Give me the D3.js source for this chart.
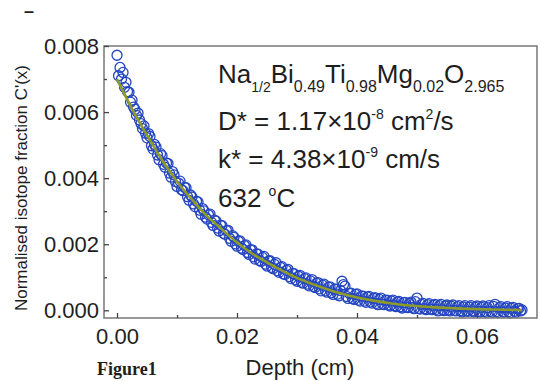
<!DOCTYPE html>
<html>
<head>
<meta charset="utf-8">
<script src="https://cdn.jsdelivr.net/npm/d3@7"></script>
<style>
  body { margin: 0; background: #fff; }
  svg { display: block; font-family: "Liberation Sans", Arial, sans-serif; }
</style>
</head>
<body>
<svg id="chart" width="540" height="381"></svg>
<script>
// measured depth (cm)
const depth = [
  0.0000, 0.0005, 0.0010, 0.0015, 0.0020, 0.0025, 0.0030, 0.0035, 0.0040, 0.0045,
  0.0050, 0.0055, 0.0060, 0.0065, 0.0070, 0.0075, 0.0080, 0.0085, 0.0090, 0.0095,
  0.0100, 0.0105, 0.0110, 0.0115, 0.0120, 0.0125, 0.0130, 0.0135, 0.0140, 0.0145,
  0.0150, 0.0155, 0.0160, 0.0165, 0.0170, 0.0175, 0.0180, 0.0185, 0.0190, 0.0195,
  0.0200, 0.0205, 0.0210, 0.0215, 0.0220, 0.0225, 0.0230, 0.0235, 0.0240, 0.0245,
  0.0250, 0.0255, 0.0260, 0.0265, 0.0270, 0.0275, 0.0280, 0.0285, 0.0290, 0.0295,
  0.0300, 0.0305, 0.0310, 0.0315, 0.0320, 0.0325, 0.0330, 0.0335, 0.0340, 0.0345,
  0.0350, 0.0355, 0.0360, 0.0365, 0.0370, 0.0375, 0.0380, 0.0385, 0.0390, 0.0395,
  0.0400, 0.0405, 0.0410, 0.0415, 0.0420, 0.0425, 0.0430, 0.0435, 0.0440, 0.0445,
  0.0450, 0.0455, 0.0460, 0.0465, 0.0470, 0.0475, 0.0480, 0.0485, 0.0490, 0.0495,
  0.0500, 0.0505, 0.0510, 0.0515, 0.0520, 0.0525, 0.0530, 0.0535, 0.0540, 0.0545,
  0.0550, 0.0555, 0.0560, 0.0565, 0.0570, 0.0575, 0.0580, 0.0585, 0.0590, 0.0595,
  0.0600, 0.0605, 0.0610, 0.0615, 0.0620, 0.0625, 0.0630, 0.0635, 0.0640, 0.0645,
  0.0650, 0.0655, 0.0660, 0.0665, 0.0670, 0.0675
];
// normalised isotope fraction C'(x)
const conc = [
  0.00772, 0.00735, 0.00720, 0.00690, 0.00660, 0.00636, 0.00608, 0.00597, 0.00565, 0.00558,
  0.00522, 0.00526, 0.00488, 0.00494, 0.00456, 0.00468, 0.00433, 0.00444, 0.00403, 0.00410,
  0.00375, 0.00391, 0.00362, 0.00371, 0.00333, 0.00343, 0.00314, 0.00328, 0.00291, 0.00301,
  0.00276, 0.00291, 0.00257, 0.00270, 0.00240, 0.00256, 0.00230, 0.00242, 0.00209, 0.00221,
  0.00194, 0.00210, 0.00184, 0.00198, 0.00169, 0.00183, 0.00155, 0.00170, 0.00148, 0.00163,
  0.00134, 0.00150, 0.00126, 0.00144, 0.00115, 0.00132, 0.00108, 0.00124, 0.00096, 0.00111,
  0.00088, 0.00106, 0.00082, 0.00098, 0.00074, 0.00093, 0.00069, 0.00084, 0.00059, 0.00079,
  0.00055, 0.00071, 0.00048, 0.00064, 0.00044, 0.00088, 0.00073, 0.00036, 0.00052, 0.00033,
  0.00050, 0.00028, 0.00043, 0.00024, 0.00042, 0.00022, 0.00038, 0.00017, 0.00037, 0.00017,
  0.00031, 0.00013, 0.00031, 0.00011, 0.00027, 0.00007, 0.00024, 0.00008, 0.00025, 0.00005,
  0.00037, 0.00004, 0.00021, 0.00002, 0.00020, 0.00002, 0.00018, -0.00002, 0.00018, -0.00001,
  0.00016, -0.00002, 0.00016, -0.00002, 0.00014, -0.00005, 0.00014, -0.00003, 0.00014, -0.00005,
  0.00013, -0.00005, 0.00013, -0.00006, 0.00014, -0.00006, 0.00018, -0.00007, 0.00011, -0.00006,
  0.00011, -0.00008, 0.00009, -0.00006, 0.00006, 0.00001
];
// second pass of measurements, between the first ones
const depth2 = [
  0.00025, 0.00075, 0.00125, 0.00175, 0.00225, 0.00275, 0.00325, 0.00375, 0.00425, 0.00475,
  0.00525, 0.00575, 0.00625, 0.00675, 0.00725, 0.00775, 0.00825, 0.00875, 0.00925, 0.00975,
  0.01025, 0.01075, 0.01125, 0.01175, 0.01225, 0.01275, 0.01325, 0.01375, 0.01425, 0.01475,
  0.01525, 0.01575, 0.01625, 0.01675, 0.01725, 0.01775, 0.01825, 0.01875, 0.01925, 0.01975,
  0.02025, 0.02075, 0.02125, 0.02175, 0.02225, 0.02275, 0.02325, 0.02375, 0.02425, 0.02475,
  0.02525, 0.02575, 0.02625, 0.02675, 0.02725, 0.02775, 0.02825, 0.02875, 0.02925, 0.02975,
  0.03025, 0.03075, 0.03125, 0.03175, 0.03225, 0.03275, 0.03325, 0.03375, 0.03425, 0.03475,
  0.03525, 0.03575, 0.03625, 0.03675, 0.03725, 0.03775, 0.03825, 0.03875, 0.03925, 0.03975,
  0.04025, 0.04075, 0.04125, 0.04175, 0.04225, 0.04275, 0.04325, 0.04375, 0.04425, 0.04475,
  0.04525, 0.04575, 0.04625, 0.04675, 0.04725, 0.04775, 0.04825, 0.04875, 0.04925, 0.04975,
  0.05025, 0.05075, 0.05125, 0.05175, 0.05225, 0.05275, 0.05325, 0.05375, 0.05425, 0.05475,
  0.05525, 0.05575, 0.05625, 0.05675, 0.05725, 0.05775, 0.05825, 0.05875, 0.05925, 0.05975,
  0.06025, 0.06075, 0.06125, 0.06175, 0.06225, 0.06275, 0.06325, 0.06375, 0.06425, 0.06475,
  0.06525, 0.06575, 0.06625, 0.06675, 0.06725
];
const conc2 = [
  0.00710, 0.00700, 0.00675, 0.00662, 0.00630, 0.00615, 0.00590, 0.00576, 0.00550, 0.00536,
  0.00535, 0.00498, 0.00502, 0.00470, 0.00474, 0.00442, 0.00446, 0.00415, 0.00420, 0.00390,
  0.00385, 0.00365, 0.00372, 0.00344, 0.00349, 0.00322, 0.00330, 0.00303, 0.00308, 0.00282,
  0.00289, 0.00266, 0.00273, 0.00249, 0.00258, 0.00233, 0.00241, 0.00218, 0.00226, 0.00201,
  0.00209, 0.00188, 0.00196, 0.00175, 0.00183, 0.00162, 0.00171, 0.00151, 0.00160, 0.00140,
  0.00149, 0.00130, 0.00139, 0.00120, 0.00130, 0.00110, 0.00121, 0.00102, 0.00112, 0.00093,
  0.00103, 0.00085, 0.00096, 0.00079, 0.00089, 0.00072, 0.00082, 0.00065, 0.00076, 0.00059,
  0.00070, 0.00053, 0.00064, 0.00049, 0.00060, 0.00078, 0.00042, 0.00051, 0.00036, 0.00048,
  0.00031, 0.00043, 0.00028, 0.00040, 0.00025, 0.00036, 0.00021, 0.00033, 0.00019, 0.00030,
  0.00016, 0.00028, 0.00014, 0.00025, 0.00011, 0.00023, 0.00010, 0.00021, 0.00009, 0.00026,
  0.00006, 0.00018, 0.00005, 0.00017, 0.00004, 0.00015, 0.00003, 0.00014, 0.00002, 0.00013,
  0.00001, 0.00012, 0.00000, 0.00011, -0.00001, 0.00010, -0.00002, 0.00010, -0.00002, 0.00009,
  -0.00003, 0.00009, -0.00003, 0.00008, -0.00003, 0.00012, -0.00004, 0.00008, -0.00004, 0.00007,
  -0.00004, 0.00006, -0.00003, 0.00005, -0.00002
];
// fitted profile
const fitDepth = [0, 0.0025, 0.005, 0.0075, 0.010, 0.0125, 0.015, 0.0175, 0.020, 0.0225,
  0.025, 0.0275, 0.030, 0.0325, 0.035, 0.0375, 0.040, 0.0425, 0.045, 0.0475,
  0.050, 0.0525, 0.055, 0.0575, 0.060, 0.0625, 0.065, 0.0675];
const fitConc = [0.00700, 0.00610, 0.00530, 0.00455, 0.00390, 0.00335, 0.00285, 0.00245, 0.00205, 0.00172,
  0.00145, 0.00120, 0.00098, 0.00080, 0.00064, 0.00050, 0.00039, 0.00030, 0.00023, 0.00017,
  0.00013, 0.000095, 0.00007, 0.00005, 0.000035, 0.000025, 0.000015, 0.00001];

const xTicks = [0, 0.02, 0.04, 0.06];
const xMinor = [0.01, 0.03, 0.05];
const yTicks = [0, 0.002, 0.004, 0.006, 0.008];
const yMinor = [0.001, 0.003, 0.005, 0.007];

const svg = d3.select("#chart");
const plotL = 104, plotR = 537, plotT = 46, plotB = 318;

const x = d3.scaleLinear().domain([-0.00217, 0.07]).range([plotL, plotR]);
const y = d3.scaleLinear().domain([-0.000233, 0.008]).range([plotB, plotT]);

const frameColor = "#777";
const textColor = "#1e1e1e";

const points = depth.map((d, i) => [d, conc[i]])
  .concat(depth2.map((d, i) => [d, conc2[i]]));

// data points
svg.append("g")
  .selectAll("circle")
  .data(points)
  .join("circle")
  .attr("cx", d => x(d[0]))
  .attr("cy", d => y(d[1]))
  .attr("r", 5)
  .attr("fill", "none")
  .attr("stroke", "#2446c0")
  .attr("stroke-width", 1.3);

// fit
const line = d3.line().x(d => x(d[0])).y(d => y(d[1])).curve(d3.curveMonotoneX);
svg.append("path")
  .datum(fitDepth.map((d, i) => [d, fitConc[i]]))
  .attr("d", line)
  .attr("fill", "none")
  .attr("stroke", "#8d9a2b")
  .attr("stroke-width", 2.6);

// frame
svg.append("rect")
  .attr("x", plotL).attr("y", plotT)
  .attr("width", plotR - plotL).attr("height", plotB - plotT)
  .attr("fill", "none")
  .attr("stroke", frameColor)
  .attr("stroke-width", 1.5);

// axes
svg.append("g")
  .attr("transform", `translate(0,${plotB})`)
  .call(d3.axisBottom(x).tickValues(xTicks).tickFormat(d3.format(".2f"))
    .tickSizeInner(-5).tickSizeOuter(0).tickPadding(10));
svg.append("g")
  .attr("transform", `translate(0,${plotB})`)
  .call(d3.axisBottom(x).tickValues(xMinor).tickFormat("")
    .tickSizeInner(-3).tickSizeOuter(0));

svg.append("g")
  .attr("transform", `translate(${plotL},0)`)
  .call(d3.axisLeft(y).tickValues(yTicks).tickFormat(d3.format(".3f"))
    .tickSizeInner(-5).tickSizeOuter(0).tickPadding(5));
svg.append("g")
  .attr("transform", `translate(${plotL},0)`)
  .call(d3.axisLeft(y).tickValues(yMinor).tickFormat("")
    .tickSizeInner(-3).tickSizeOuter(0));

svg.selectAll(".domain").remove();
svg.selectAll(".tick line").attr("stroke", "#444").attr("stroke-width", 1.3);
svg.selectAll(".tick text")
  .attr("fill", textColor)
  .style("font-family", "'Liberation Sans', Arial, sans-serif")
  .style("font-size", "22px");

// axis titles
svg.append("text")
  .attr("x", 300).attr("y", 375)
  .attr("text-anchor", "middle")
  .attr("fill", textColor)
  .style("font-size", "22px")
  .text("Depth (cm)");

svg.append("text")
  .attr("transform", "translate(27,188) rotate(-90)")
  .attr("text-anchor", "middle")
  .attr("fill", textColor)
  .style("font-size", "17px")
  .text("Normalised isotope fraction C'(x)");

svg.append("text")
  .attr("x", 97).attr("y", 375)
  .attr("fill", textColor)
  .style("font-family", "'Liberation Serif', 'Times New Roman', serif")
  .style("font-weight", "bold")
  .style("font-size", "18px")
  .text("Figure1");

// stray mark at top-left of the crop
svg.append("text")
  .attr("x", 24).attr("y", 17)
  .attr("fill", textColor)
  .style("font-size", "18px")
  .style("font-weight", "bold")
  .text("–");

// annotation
const ann = svg.append("g").attr("fill", textColor).style("font-size", "26px");

const formula = [["Na", false], ["1/2", true], ["Bi", false], ["0.49", true], ["Ti", false],
  ["0.98", true], ["Mg", false], ["0.02", true], ["O", false], ["2.965", true]];
const t1 = ann.append("text").attr("x", 218).attr("y", 83);
formula.forEach(([s, sub], i) => {
  const prev = i > 0 ? formula[i - 1][1] : false;
  t1.append("tspan")
    .attr("dy", sub ? 9 : (prev ? -9 : 0))
    .style("font-size", sub ? (s === "1/2" ? "14px" : "16px") : "26px")
    .text(s);
});

const t2 = ann.append("text").attr("x", 218).attr("y", 130);
t2.append("tspan").text("D* = 1.17×10");
t2.append("tspan").attr("dy", -11).style("font-size", "14px").text("-8");
t2.append("tspan").attr("dy", 11).text(" cm");
t2.append("tspan").attr("dy", -11).style("font-size", "14px").text("2");
t2.append("tspan").attr("dy", 11).text("/s");

const t3 = ann.append("text").attr("x", 218).attr("y", 168);
t3.append("tspan").text("k* = 4.38×10");
t3.append("tspan").attr("dy", -11).style("font-size", "14px").text("-9");
t3.append("tspan").attr("dy", 11).text(" cm/s");

const t4 = ann.append("text").attr("x", 218).attr("y", 207);
t4.append("tspan").text("632 ");
t4.append("tspan").attr("dy", -11).style("font-size", "14px").text("o");
t4.append("tspan").attr("dy", 11).text("C");
</script>
</body>
</html>
